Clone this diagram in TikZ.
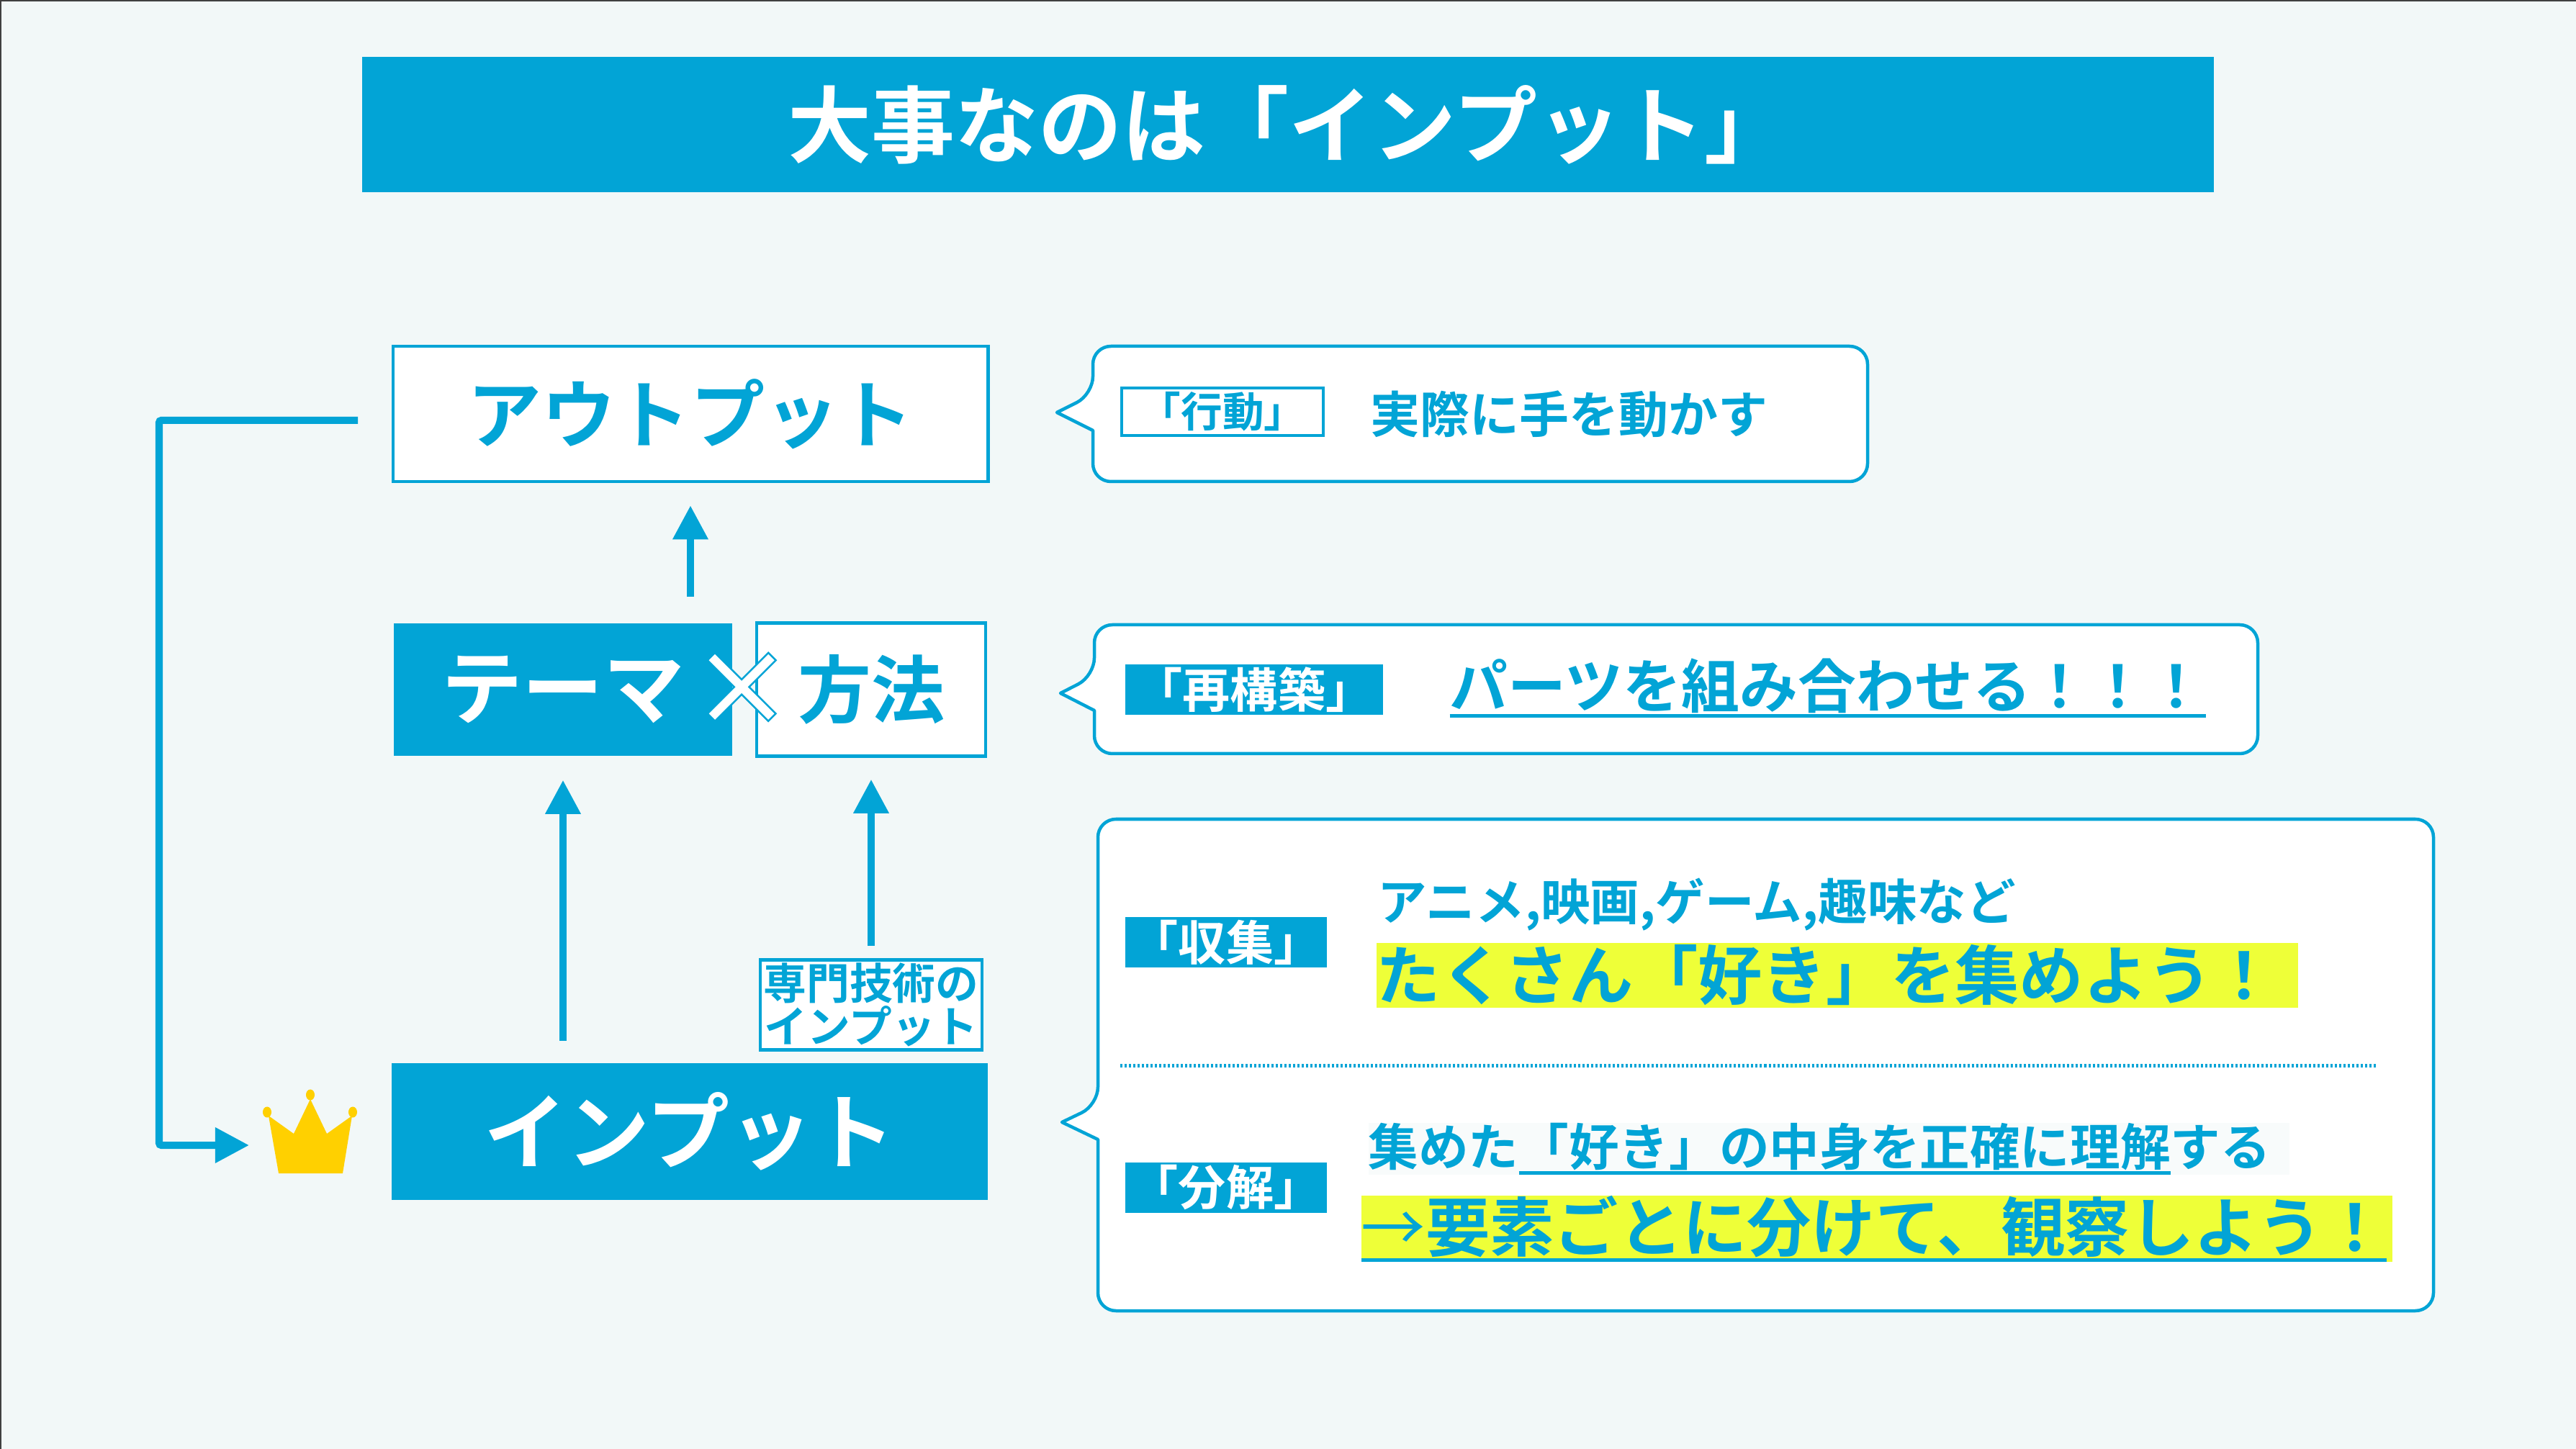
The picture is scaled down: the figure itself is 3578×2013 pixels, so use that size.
\documentclass[tikz,border=0pt]{standalone}
\usepackage{fontspec}
\setmainfont{Noto Sans CJK JP}[BoldFont=* Bold]
\usetikzlibrary{arrows.meta}
\definecolor{skyblue}{RGB}{2,164,214}
\definecolor{paper}{RGB}{242,248,248}
\definecolor{marker}{RGB}{238,255,56}
\definecolor{crowngold}{RGB}{255,208,0}
% font size in pt, for one em of the wanted width
\newcommand{\fsz}[1]{\fontsize{#1}{#1}\selectfont\bfseries}
% underline set under the text, as long as the text
\newcommand{\ultext}[1]{\leavevmode\setbox0\hbox{#1}\rlap{\raisebox{-0.17em}{\color{skyblue}\rule{\wd0}{0.06em}}}\box0}
% white glyph with a blue outline
\newcommand{\outlined}[1]{\special{pdf:code 2 Tr 0.7 w 0.008 0.643 0.839 RG}#1\special{pdf:code 0 Tr 1 w 0 0 0 RG}}
% left, top, right, bottom, tip x, tip y, half notch
\newcommand{\bubble}[7]{\draw[bubbleline] (#1,#6-#7) -- (#5,#6) -- (#1,#6+#7) [rounded corners=0.25cm] -- (#1,#4) -- (#3,#4) -- (#3,#2) -- (#1,#2) -- cycle;}
\begin{document}
\begin{tikzpicture}[x=0.01cm, y=-0.01cm]
    \tikzset{solidbox/.style={rectangle, fill=skyblue, text=white, inner sep=0pt}}
    \tikzset{linebox/.style={rectangle, draw=skyblue, line width=0.045cm, fill=white, text=skyblue, inner sep=0pt}}
    \tikzset{bubbleline/.style={draw=skyblue, line width=0.045cm, fill=white, line join=round}}
    \tikzset{flow/.style={draw=skyblue, line width=0.1cm, -{Triangle[width=0.47cm, length=0.47cm]}}}
    \tikzset{note/.style={anchor=west, text=skyblue, inner sep=0pt}}
    \tikzset{marked/.style={note, fill=marker, align=left}}

    \path[use as bounding box, fill=paper] (0,0) rectangle (3578,2013);
    \draw[black!75, line width=0.035cm] (0,2013) -- (0,0) -- (3578,0);

    % ── TITLE ────────────────────────────────────────────
    \node[solidbox, minimum width=25.70cm, minimum height=1.87cm, font=\fsz{33}] (title) at (1789,173) {大事なのは「インプット」};

    % ── LEFT COLUMN ──────────────────────────────────────
    \node[linebox, minimum width=8.26cm, minimum height=1.88cm, font=\fsz{29.3}] (output) at (959,575) {アウトプット};
    \node[solidbox, minimum width=4.70cm, minimum height=1.84cm, font=\fsz{32}] (theme) at (782,958) {テーマ};
    \node[linebox, minimum width=3.18cm, minimum height=1.85cm, font=\fsz{29}] (method) at (1210,958) {方法};
    \node[solidbox, minimum width=8.27cm, minimum height=1.89cm, font=\fsz{32.7}] (input) at (958,1572) {インプット};
    \node[linebox, minimum width=3.08cm, minimum height=1.25cm, align=center, font=\fsz{17}] (skill) at (1210,1396) {専門技術の\\インプット};

    % cross between the two boxes
    \node[text=white, inner sep=0pt, font=\fsz{41}] (cross) at (1030,958) {\outlined{×}};

    % ── ARROWS ───────────────────────────────────────────
    \draw[flow, shorten <=0.36cm, shorten >=0.31cm] (output.south |- theme.north) -- (output.south);
    \draw[flow, shorten <=0.31cm, shorten >=0.33cm] (theme.south |- input.north) -- (theme.south);
    \draw[flow, shorten <=0.17cm, shorten >=0.30cm] (skill.north) -- (method.south);

    % feedback line on the left
    \coordinate (fbstart) at (497,584);
    \coordinate (fbend) at (346,1591);
    \draw[flow, rounded corners=0.03cm] (fbstart) -- (221,584) -- (221,1591) -- (fbend);

    % crown
    \fill[crowngold] (373,1550) -- (408,1575) -- (431,1527) -- (454,1575) -- (489,1550) -- (476,1630) -- (387,1630) -- cycle;
    \foreach \cx/\cy in {371/1545, 431/1521, 490/1545} {
        \fill[crowngold] (\cx,\cy) ellipse (0.06cm and 0.075cm);
    }

    % ── BUBBLES ──────────────────────────────────────────
    \bubble{1518}{481}{2594}{669}{1468}{573}{25}
    \bubble{1520}{868}{3136}{1047}{1473}{963}{24}
    \bubble{1525}{1138}{3380}{1821}{1475}{1559}{24}

    % row 1
    \node[linebox, minimum width=2.80cm, minimum height=0.66cm, font=\fsz{16.4}] (act) at (1698,572) {「行動」};
    \node[note, font=\fsz{19.6}] (acttext) at (1903,575) {実際に手を動かす};

    % row 2
    \node[solidbox, minimum width=3.57cm, minimum height=0.70cm, font=\fsz{18.8}] (rebuild) at (1742,958) {「再構築」};
    \node[note, font=\fsz{23}] (rebuildtext) at (2013,956) {\ultext{パーツを組み合わせる！！！}};

    % row 3
    \node[solidbox, minimum width=2.80cm, minimum height=0.70cm, font=\fsz{18.8}] (collect) at (1703,1309) {「収集」};
    \node[note, font=\fsz{19.5}] (collecttext) at (1913,1257) {アニメ,映画,ゲーム,趣味など};
    \node[marked, text width=12.80cm, minimum height=0.90cm, font=\fsz{25.4}] (collectmark) at (1911,1355) {たくさん「好き」を集めよう！};

    \draw[skyblue, line width=0.05cm, dash pattern=on 0.03cm off 0.03cm] (1556,1480) -- (3300,1480);

    % row 4
    \node[solidbox, minimum width=2.80cm, minimum height=0.70cm, font=\fsz{18.8}] (split) at (1703,1650) {「分解」};
    \node[note, fill=white!50!paper, text width=12.79cm, minimum height=0.72cm, font=\fsz{19.8}] (splittext) at (1900,1596) {集めた\ultext{「好き」の中身を正確に理解}する};
    \node[marked, text width=14.31cm, minimum height=0.92cm, font=\fsz{25.4}] (splitmark) at (1890,1707) {\ultext{{\mdseries →}要素ごとに分けて、観察しよう！}};
\end{tikzpicture}
\end{document}
